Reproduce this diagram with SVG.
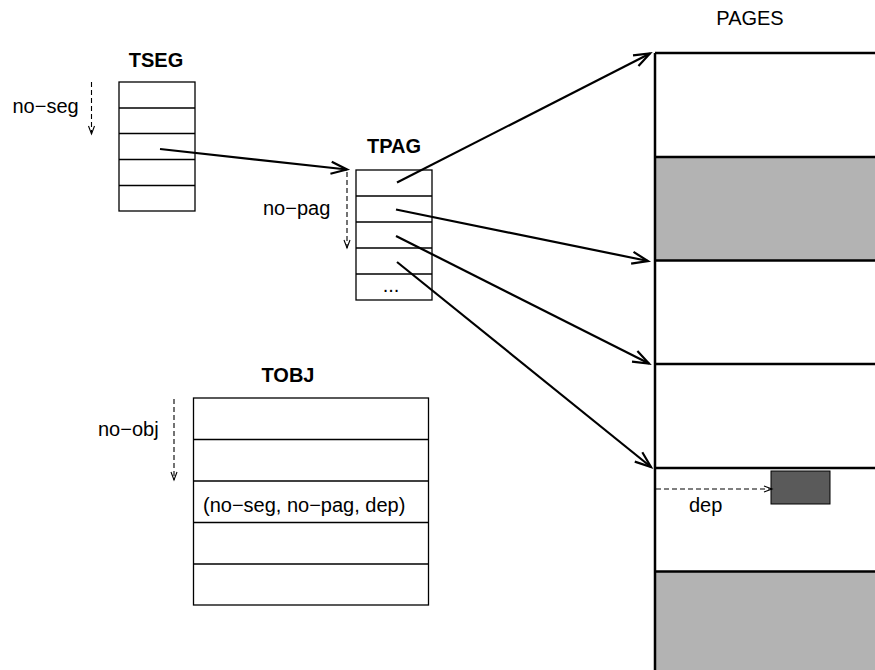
<svg xmlns="http://www.w3.org/2000/svg" width="875" height="670" viewBox="0 0 875 670">
<style>
text{font-family:"Liberation Sans",Arial,sans-serif;font-size:20px;fill:#000}
.b{font-weight:bold}
.tbl{fill:#fff;stroke:#000;stroke-width:1.3}
.ln{stroke:#000;stroke-width:1.3}
.pg{stroke:#000;stroke-width:2.5}
.arr{stroke:#000;stroke-width:2.2;fill:none;marker-end:url(#ah)}
.dsh{stroke:#000;stroke-width:1.1;stroke-dasharray:5,3;fill:none;marker-end:url(#dh)}
</style>
<defs>
<marker id="ah" markerUnits="userSpaceOnUse" markerWidth="20" markerHeight="14" refX="16" refY="6" orient="auto" overflow="visible">
<path d="M0,0 L16,6 L0,12" fill="none" stroke="#000" stroke-width="2.2"/>
</marker>
<marker id="dh" markerUnits="userSpaceOnUse" markerWidth="10" markerHeight="8" refX="8" refY="3" orient="auto" overflow="visible">
<path d="M0,0 L8,3 L0,6" fill="none" stroke="#000" stroke-width="1.1"/>
</marker>
</defs>

<g id="pages">
<text x="750" y="25" text-anchor="middle">PAGES</text>
<rect x="655" y="157" width="225" height="103.5" fill="#b3b3b3"/>
<rect x="655" y="571.5" width="225" height="100" fill="#b3b3b3"/>
<line class="pg" x1="655" y1="53" x2="655" y2="672"/>
<line class="pg" x1="655" y1="53" x2="877" y2="53"/>
<line class="pg" x1="655" y1="157" x2="877" y2="157"/>
<line class="pg" x1="655" y1="260.5" x2="877" y2="260.5"/>
<line class="pg" x1="655" y1="364" x2="877" y2="364"/>
<line class="pg" x1="655" y1="468" x2="877" y2="468"/>
<line class="pg" x1="655" y1="571.5" x2="877" y2="571.5"/>
<rect x="771" y="471" width="59" height="33" fill="#5a5a5a" stroke="#000" stroke-width="1"/>
<text x="689" y="512">dep</text>
</g>

<g id="tseg">
<text class="b" x="156" y="67" text-anchor="middle">TSEG</text>
<rect class="tbl" x="119" y="82" width="76" height="129"/>
<line class="ln" x1="119" y1="108" x2="195" y2="108"/>
<line class="ln" x1="119" y1="133.5" x2="195" y2="133.5"/>
<line class="ln" x1="119" y1="159.5" x2="195" y2="159.5"/>
<line class="ln" x1="119" y1="185.5" x2="195" y2="185.5"/>
<text x="12.5" y="113">no−seg</text>
</g>

<g id="tpag">
<text class="b" x="394" y="153" text-anchor="middle">TPAG</text>
<rect class="tbl" x="356" y="170" width="76" height="130"/>
<line class="ln" x1="356" y1="196" x2="432" y2="196"/>
<line class="ln" x1="356" y1="222" x2="432" y2="222"/>
<line class="ln" x1="356" y1="248" x2="432" y2="248"/>
<line class="ln" x1="356" y1="274" x2="432" y2="274"/>
<text x="391" y="292" text-anchor="middle">...</text>
<text x="263" y="215">no−pag</text>
</g>

<g id="tobj">
<text class="b" x="288" y="382" text-anchor="middle">TOBJ</text>
<rect class="tbl" x="193.5" y="398" width="235" height="207"/>
<line class="ln" x1="193.5" y1="439.5" x2="428.5" y2="439.5"/>
<line class="ln" x1="193.5" y1="481" x2="428.5" y2="481"/>
<line class="ln" x1="193.5" y1="522.5" x2="428.5" y2="522.5"/>
<line class="ln" x1="193.5" y1="564" x2="428.5" y2="564"/>
<text x="203" y="512">(no−seg, no−pag, dep)</text>
<text x="98" y="436">no−obj</text>
</g>

<g id="connectors">
<line class="arr" x1="160" y1="149" x2="347" y2="169.5"/>
<line class="arr" x1="397" y1="182.5" x2="650" y2="53.5"/>
<line class="arr" x1="396" y1="209.5" x2="648" y2="261"/>
<line class="arr" x1="396" y1="236" x2="649" y2="363.5"/>
<line class="arr" x1="397" y1="262" x2="651" y2="467"/>
<line class="dsh" x1="91.5" y1="82" x2="91.5" y2="134"/>
<line class="dsh" x1="347" y1="172" x2="347" y2="248"/>
<line class="dsh" x1="174" y1="399" x2="174" y2="480"/>
<line class="dsh" x1="656" y1="489" x2="772" y2="489"/>
</g>
</svg>
